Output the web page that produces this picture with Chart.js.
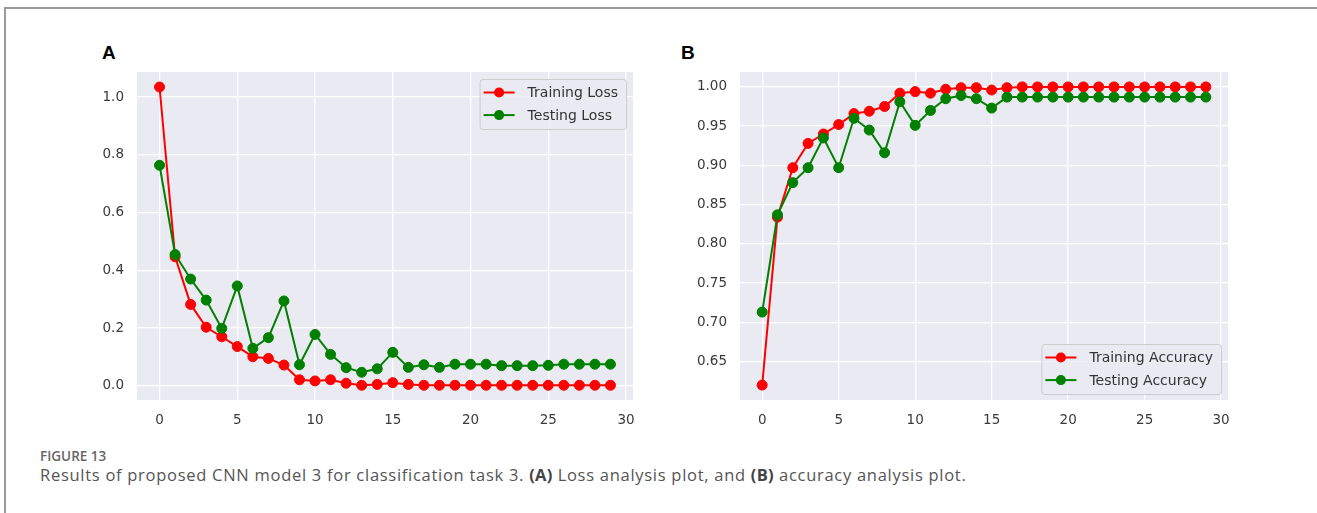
<!DOCTYPE html>
<html>
<head>
<meta charset="utf-8">
<script src="https://cdn.jsdelivr.net/npm/chart.js@4.4.1/dist/chart.umd.min.js"></script>
<style>
  body { margin: 0; background: #fff; width: 1317px; height: 513px; overflow: hidden; position: relative; font-family: "Open Sans", sans-serif; }
  .frame { position: absolute; left: 4px; top: 7px; width: 1400px; height: 600px; border-top: 2px solid #9a9a9a; border-left: 2px solid #9a9a9a; }
  .panel { position: absolute; font-family: "Liberation Sans", Arial, sans-serif; font-weight: bold; font-size: 19px; color: #000; }
  .box { position: absolute; width: 620px; height: 370px; top: 62px; }
  .fig { position: absolute; left: 40px; top: 447px; font-size: 13.5px; font-weight: 600; color: #666; }
  .cap { position: absolute; left: 40px; top: 463px; font-size: 16.5px; letter-spacing: 0.72px; color: #555; white-space: nowrap; }
  .cap b { color: #444; letter-spacing: 0.3px; }
</style>
</head>
<body>
<div class="frame"></div>
<div class="panel" style="left:102px; top:42px;">A</div>
<div class="panel" style="left:681px; top:42px;">B</div>
<div class="box" style="left:40px;"><canvas id="lossChart" width="620" height="370"></canvas></div>
<div class="box" style="left:640px;"><canvas id="accChart" width="620" height="370"></canvas></div>
<div class="fig">FIGURE 13</div>
<div class="cap">Results of proposed CNN model 3 for classification task 3. <b>(A)</b> Loss analysis plot, and <b>(B)</b> accuracy analysis plot.</div>

<script>
var epochs = [0, 1, 2, 3, 4, 5, 6, 7, 8, 9, 10, 11, 12, 13, 14, 15, 16, 17, 18, 19, 20, 21, 22, 23, 24, 25, 26, 27, 28, 29];

var trainLoss = [1.035, 0.447, 0.282, 0.203, 0.170, 0.136, 0.101, 0.095, 0.072, 0.021,
                 0.017, 0.021, 0.009, 0.002, 0.005, 0.011, 0.005, 0.002, 0.002, 0.002,
                 0.002, 0.002, 0.002, 0.002, 0.002, 0.002, 0.002, 0.002, 0.002, 0.002];
var testLoss = [0.764, 0.455, 0.370, 0.297, 0.199, 0.346, 0.130, 0.167, 0.294, 0.073,
                0.178, 0.109, 0.063, 0.047, 0.059, 0.116, 0.064, 0.073, 0.064, 0.075,
                0.075, 0.075, 0.070, 0.070, 0.070, 0.071, 0.075, 0.075, 0.075, 0.075];

var trainAcc = [0.620, 0.834, 0.897, 0.928, 0.940, 0.952, 0.966, 0.969, 0.975, 0.992,
                0.994, 0.992, 0.997, 0.999, 0.999, 0.996, 0.999, 1.000, 1.000, 1.000,
                1.000, 1.000, 1.000, 1.000, 1.000, 1.000, 1.000, 1.000, 1.000, 1.000];
var testAcc = [0.713, 0.837, 0.878, 0.897, 0.935, 0.897, 0.960, 0.945, 0.916, 0.981,
               0.951, 0.970, 0.985, 0.989, 0.985, 0.973, 0.987, 0.987, 0.987, 0.987,
               0.987, 0.987, 0.987, 0.987, 0.987, 0.987, 0.987, 0.987, 0.987, 0.987];

var lossTicks = [0.0, 0.2, 0.4, 0.6, 0.8, 1.0];
var accTicks = [0.65, 0.70, 0.75, 0.80, 0.85, 0.90, 0.95, 1.00];

var RED = '#ff0000', GREEN = '#008000';
var tickFont = { family: 'DejaVu Sans', size: 13.5 };
var tickColor = '#3a3a3a';

// grey seaborn-ish plot background
var bgPlugin = {
    id: 'plotBg',
    beforeDraw: function(chart) {
        var a = chart.chartArea, c = chart.ctx;
        c.save();
        c.fillStyle = '#eaeaf2';
        c.fillRect(a.left, a.top, a.right - a.left, a.bottom - a.top);
        c.restore();
    }
};

// matplotlib style legend (line + marker) drawn inside the plot
var legendPlugin = {
    id: 'mplLegend',
    afterDraw: function(chart, args, opts) {
        var c = chart.ctx, a = chart.chartArea;
        var items = chart.data.datasets.slice().sort(function(p, q) { return p.legendIndex - q.legendIndex; });
        c.save();
        c.font = '14px "DejaVu Sans"';
        var tw = 0;
        items.forEach(function(d) { tw = Math.max(tw, c.measureText(d.label).width); });
        var w = 48 + tw + 8, h = 50;
        var x = a.right - 7 - w;
        var y = opts.corner === 'bottom' ? a.bottom - 6 - h : a.top + 7;
        c.fillStyle = 'rgba(234,234,242,0.8)';
        c.strokeStyle = '#cccccc';
        c.lineWidth = 1;
        c.beginPath();
        c.roundRect(x + 0.5, y + 0.5, w, h, 3);
        c.fill();
        c.stroke();
        items.forEach(function(d, i) {
            var ry = y + 13.5 + i * 22.6;
            c.strokeStyle = d.borderColor;
            c.lineWidth = 2;
            c.beginPath();
            c.moveTo(x + 4, ry);
            c.lineTo(x + 35, ry);
            c.stroke();
            c.fillStyle = d.borderColor;
            c.beginPath();
            c.arc(x + 19.5, ry, 5, 0, Math.PI * 2);
            c.fill();
            c.fillStyle = '#333';
            c.textBaseline = 'middle';
            c.fillText(d.label, x + 48, ry + 1);
        });
        c.restore();
    }
};

function makeChart(id, a, b, yMin, yMax, step, digits, yWidth, padRight, corner, labels) {
    var ctx = document.getElementById(id).getContext('2d');
    return new Chart(ctx, {
        type: 'line',
        data: {
            labels: epochs,
            datasets: [{
                label: labels[1], data: b, legendIndex: 1, order: 0,
                borderColor: GREEN, backgroundColor: GREEN,
                pointBackgroundColor: GREEN, pointBorderColor: GREEN,
                borderWidth: 2, pointRadius: 5, pointBorderWidth: 1, tension: 0
            }, {
                label: labels[0], data: a, legendIndex: 0, order: 1,
                borderColor: RED, backgroundColor: RED,
                pointBackgroundColor: RED, pointBorderColor: RED,
                borderWidth: 2, pointRadius: 5, pointBorderWidth: 1, tension: 0
            }]
        },
        options: {
            responsive: false,
            animation: false,
            layout: { padding: { top: 10, right: padRight, left: 0, bottom: 0 } },
            plugins: {
                legend: { display: false },
                tooltip: { enabled: false },
                mplLegend: { corner: corner }
            },
            scales: {
                x: {
                    type: 'linear', min: -1.45, max: 30.45,
                    border: { display: false },
                    grid: { color: '#ffffff', lineWidth: 1.3, drawTicks: false },
                    ticks: { stepSize: 5, includeBounds: false, padding: 12, font: tickFont, color: tickColor, maxRotation: 0 },
                    afterFit: function(s) { s.height = 32; }
                },
                y: {
                    min: yMin, max: yMax,
                    border: { display: false },
                    grid: { color: '#ffffff', lineWidth: 1.3, drawTicks: false },
                    ticks: {
                        stepSize: step, includeBounds: false, padding: 13, font: tickFont, color: tickColor,
                        callback: function(v) { return Math.abs(v).toFixed(digits); }
                    },
                    afterFit: function(s) { s.width = yWidth; s.paddingTop = 0; s.paddingBottom = 0; }
                }
            }
        },
        plugins: [bgPlugin, legendPlugin]
    });
}

makeChart('lossChart', trainLoss, testLoss, -0.049, 1.087, lossTicks[1] - lossTicks[0], 1, 97, 27, 'top',
          ['Training Loss', 'Testing Loss']);
makeChart('accChart', trainAcc, testAcc, 0.601, 1.019, accTicks[1] - accTicks[0], 2, 100, 32, 'bottom',
          ['Training Accuracy', 'Testing Accuracy']);
</script>
</body>
</html>
